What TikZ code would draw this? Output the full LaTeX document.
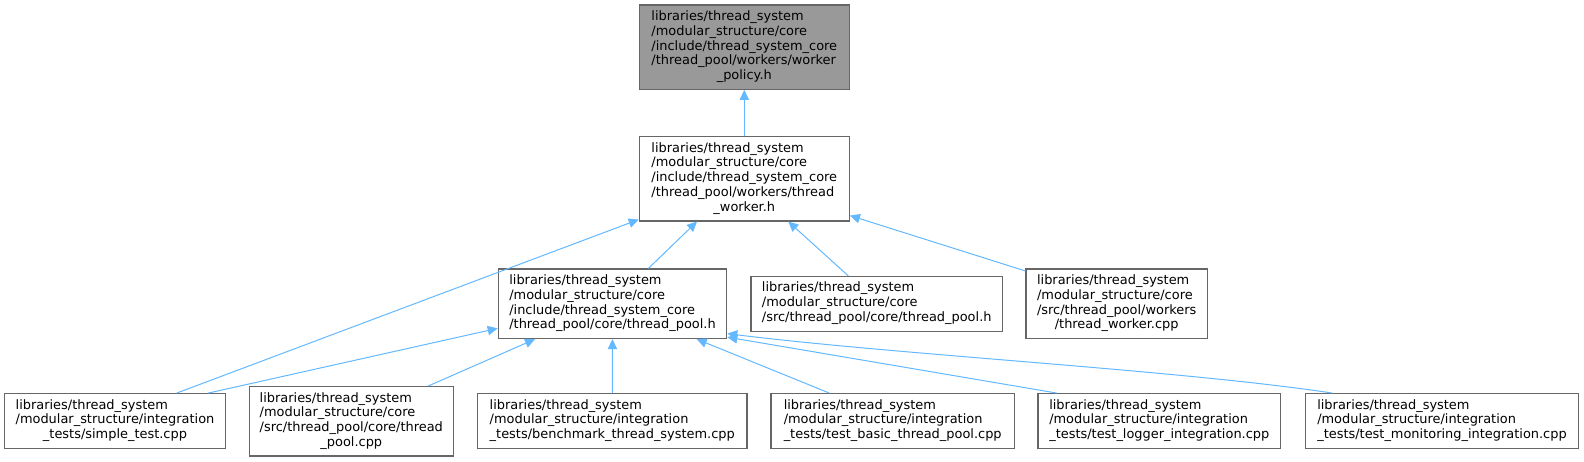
\documentclass[tikz,border=0pt]{standalone}
\usepackage{fontspec}
\setmainfont{DejaVu Sans}
\usetikzlibrary{arrows.meta}
\definecolor{edgeblue}{HTML}{63B8FF}
\definecolor{boxline}{HTML}{666666}
\definecolor{curfill}{HTML}{999999}
\newcommand{\lastln}[1]{\multicolumn{1}{@{}c@{}}{#1}}
\newcommand{\fname}[1]{\begin{tabular}{@{}l@{}}#1\end{tabular}}
\begin{document}
\begin{tikzpicture}[x=0.75pt, y=-0.75pt,
  every node/.style={font=\fontsize{9.7}{11.1}\selectfont},
  file/.style={draw=boxline, line width=0.9pt, fill=white, inner xsep=0pt, inner ysep=3.85pt},
  current/.style={file, fill=curfill},
  dep/.style={draw=edgeblue, line width=0.75pt, -{Triangle[length=7.5pt,width=7pt,fill=edgeblue]}}]
\useasboundingbox (0,0) rectangle (1584,461);
% header and the files that include it
\node[current, minimum width=157.5pt] (pol) at (744.3,47.2) {\fname{libraries/thread\_system\\/modular\_structure/core\\/include/thread\_system\_core\\/thread\_pool/workers/worker\\\lastln{\_policy.h}}};
\node[file, minimum width=157.5pt] (wh) at (744.3,178.8) {\fname{libraries/thread\_system\\/modular\_structure/core\\/include/thread\_system\_core\\/thread\_pool/workers/thread\\\lastln{\_worker.h}}};
\node[file, minimum width=171.3pt] (ph) at (612.5,303.8) {\fname{libraries/thread\_system\\/modular\_structure/core\\/include/thread\_system\_core\\/thread\_pool/core/thread\_pool.h}};
\node[file, minimum width=188.5pt] (cph) at (876.7,303.8) {\fname{libraries/thread\_system\\/modular\_structure/core\\/src/thread\_pool/core/thread\_pool.h}};
\node[file, minimum width=136pt] (wc) at (1116.7,303.8) {\fname{libraries/thread\_system\\/modular\_structure/core\\/src/thread\_pool/workers\\\lastln{/thread\_worker.cpp}}};
% bottom row
\node[file, minimum width=165.5pt] (st) at (115,421) {\fname{libraries/thread\_system\\/modular\_structure/integration\\\lastln{\_tests/simple\_test.cpp}}};
\node[file, minimum width=153pt] (pc) at (351.3,421.3) {\fname{libraries/thread\_system\\/modular\_structure/core\\/src/thread\_pool/core/thread\\\lastln{\_pool.cpp}}};
\node[file, minimum width=202pt] (bm) at (612.3,421) {\fname{libraries/thread\_system\\/modular\_structure/integration\\\_tests/benchmark\_thread\_system.cpp}};
\node[file, minimum width=182.5pt] (tb) at (892.7,421) {\fname{libraries/thread\_system\\/modular\_structure/integration\\\_tests/test\_basic\_thread\_pool.cpp}};
\node[file, minimum width=182pt] (lg) at (1159.3,421) {\fname{libraries/thread\_system\\/modular\_structure/integration\\\_tests/test\_logger\_integration.cpp}};
\node[file, minimum width=205pt] (mo) at (1442,421) {\fname{libraries/thread\_system\\/modular\_structure/integration\\\_tests/test\_monitoring\_integration.cpp}};
% include edges
\draw[dep] (wh) -- (pol);
\draw[dep] ([shift={(61.7,0)}]st.north) -- ([shift={(0,-2)}]wh.south west);
\draw[dep] ([shift={(35.8,0)}]ph.north) -- ([shift={(-47.3,0)}]wh.south);
\draw[dep] ([shift={(-28.4,0)}]cph.north) -- ([shift={(44,0)}]wh.south);
\draw[dep] ([shift={(0,2.5)}]wc.north west) -- ([shift={(0,-6)}]wh.south east);
\draw[dep] ([shift={(93.3,0)}]st.north) -- ([shift={(0,-10.8)}]ph.south west);
\draw[dep] ([shift={(77,0)}]pc.north) -- ([shift={(-77.5,0)}]ph.south);
\draw[dep] (bm) -- (ph);
\draw[dep] ([shift={(-63.4,0)}]tb.north) -- ([shift={(84.2,0)}]ph.south);
\draw[dep] ([shift={(-102.6,0)}]lg.north) -- ([shift={(0,-2)}]ph.south east);
\draw[dep] ([shift={(-109.7,0)}]mo.north) .. controls (1180,370) and (900,355) .. ([shift={(0,-5.5)}]ph.south east);
\end{tikzpicture}
\end{document}
